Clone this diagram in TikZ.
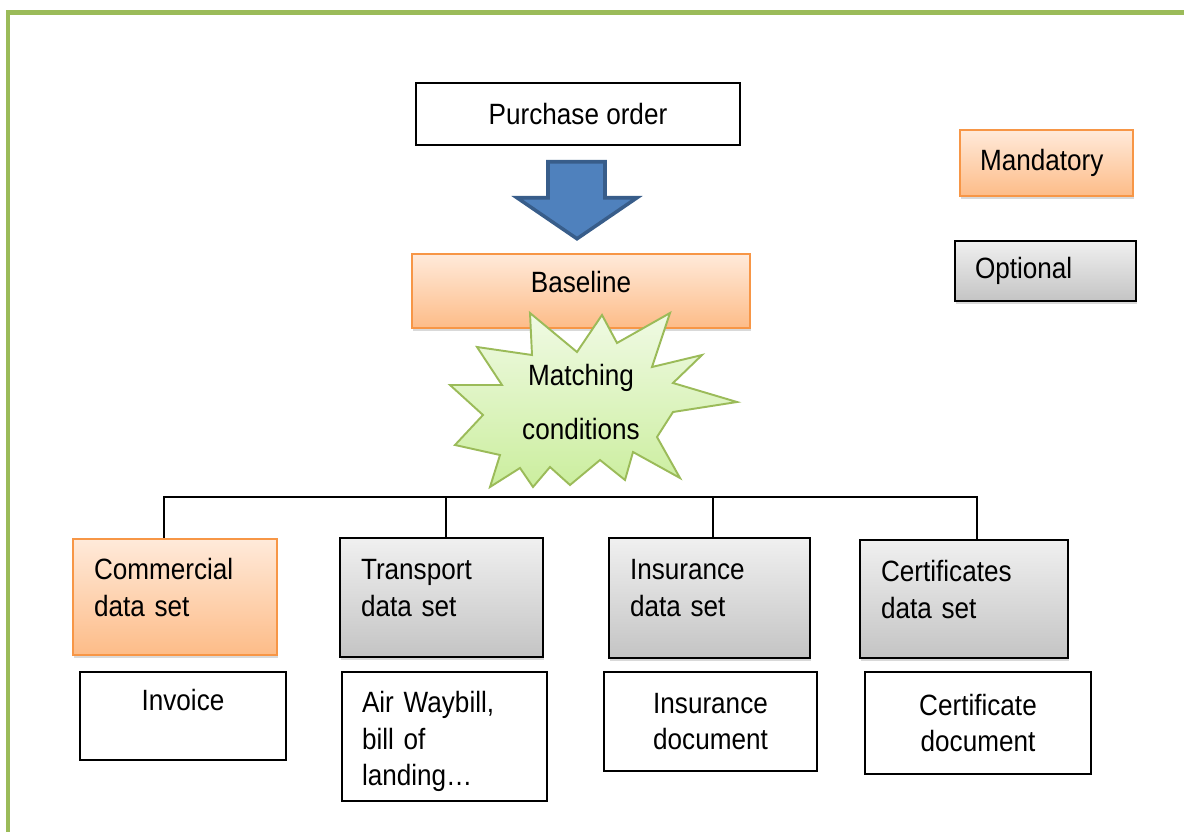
\documentclass[tikz,border=0pt]{standalone}
\usepackage{fontspec}
\setmainfont{Liberation Sans}[FakeStretch=0.89]
\usepackage{tikz}
\usetikzlibrary{shadows,calc}
\usepackage{xcolor}
\definecolor{framegreen}{RGB}{155,187,89}
\definecolor{mandline}{RGB}{247,150,70}
\definecolor{mandtop}{RGB}{255,234,218}
\definecolor{mandbot}{RGB}{253,188,136}
\definecolor{opttop}{RGB}{240,240,240}
\definecolor{optbot}{RGB}{196,196,196}
\definecolor{arrowfill}{RGB}{79,129,189}
\definecolor{arrowline}{RGB}{56,93,138}
\definecolor{bursttop}{RGB}{240,250,228}
\definecolor{burstbot}{RGB}{203,238,158}
\newcommand{\bigfont}{\fontsize{16.7}{21}\selectfont}

\begin{document}
\begin{tikzpicture}[x=0.02cm, y=-0.02cm, font=\bigfont,
    docbox/.style={draw=black, line width=0.85pt, inner sep=0pt, align=center},
    mandbox/.style={draw=mandline, line width=1.2pt, top color=mandtop, bottom color=mandbot,
        drop shadow={opacity=0.3, shadow xshift=0.6pt, shadow yshift=-1.8pt}, inner sep=0pt},
    optbox/.style={draw=black, line width=1.4pt, top color=opttop, bottom color=optbot,
        drop shadow={opacity=0.3, shadow xshift=0.6pt, shadow yshift=-1.8pt}, inner sep=0pt},
    setbox/.style={inner xsep=0.42cm, align=left, text depth=1.14cm},
    keybox/.style={inner xsep=0.4cm, align=left},
    bigarrow/.style={fill=arrowfill, draw=arrowline, line width=2pt, line join=miter},
    burst/.style={top color=bursttop, bottom color=burstbot, draw=framegreen, line width=1.1pt, line join=miter},
    tree/.style={draw=black, line width=0.85pt}]

    \useasboundingbox (0,0) rectangle (1184,832);

    % green frame
    \begin{scope}
        \clip (0,0) rectangle (1184,832);
        \draw[framegreen, line width=0.1cm] (8,12) rectangle (1186,860);
    \end{scope}

    % purchase order and baseline
    \node[docbox, minimum width=6.48cm, minimum height=1.24cm] (po) at (578,114) {Purchase order};
    \node[mandbox, minimum width=6.76cm, minimum height=1.48cm, text depth=0.36cm] (base) at (581,291) {Baseline};

    \draw[bigarrow] ($(po.south)+(-30,16)$) -- ++(57,0) -- ++(0,36) -- ++(32,0)
        -- ++(-60,41) -- ++(-60,-41) -- ++(31,0) -- cycle;

    % matching conditions
    \draw[burst] (530,313) -- (577,352) -- (602,315) -- (617,343) -- (670,313) -- (652,367)
        -- (702,355) -- (673,383) -- (737,402) -- (673,412) -- (657,437) -- (680,478)
        -- (633,452) -- (625,480) -- (600,460) -- (570,485) -- (550,467) -- (533,487)
        -- (520,468) -- (490,487) -- (500,455) -- (455,445) -- (483,415) -- (450,385)
        -- (502,385) -- (477,347) -- (532,355) -- cycle;
    \node[align=center] (match) at (581,402) {Matching\\[0.36cm]conditions};

    % legend
    \node[mandbox, keybox, minimum width=3.46cm, minimum height=1.32cm, text width=2.66cm] (mand) at (1046.5,163) {Mandatory};
    \node[optbox, keybox, minimum width=3.62cm, minimum height=1.2cm, text width=2.82cm] (opt) at (1045.5,271) {Optional};

    % data sets
    \node[mandbox, setbox, minimum width=4.08cm, minimum height=2.32cm, text width=3.24cm] (com) at (175,597) {Commercial\\data set};
    \node[optbox, setbox, minimum width=4.06cm, minimum height=2.38cm, text width=3.22cm] (tra) at (441.5,597.5) {Transport\\data set};
    \node[optbox, setbox, minimum width=4.02cm, minimum height=2.4cm, text width=3.18cm] (ins) at (709.5,598) {Insurance\\data set};
    \node[optbox, setbox, minimum width=4.16cm, minimum height=2.36cm, text width=3.32cm] (cer) at (964,599) {Certificates\\data set};

    % documents
    \node[docbox, minimum width=4.12cm, minimum height=1.76cm, text depth=0.65cm] (inv) at (183,716) {Invoice};
    \node[docbox, keybox, minimum width=4.1cm, minimum height=2.58cm, text width=3.3cm, text depth=1.4cm] (awb) at (444.5,736.5) {Air Waybill,\\bill of\\landing…};
    \node[docbox, minimum width=4.26cm, minimum height=1.98cm] (idoc) at (710.5,721.5) {Insurance\\document};
    \node[docbox, minimum width=4.52cm, minimum height=2.04cm] (cdoc) at (978,723) {Certificate\\document};

    % tree
    \coordinate (bus) at (570,497);
    \coordinate (dcom) at ([xshift=-0.22cm]com.north);
    \coordinate (dtra) at ([xshift=0.09cm]tra.north);
    \coordinate (dins) at ([xshift=0.07cm]ins.north);
    \coordinate (dcer) at ([xshift=0.26cm]cer.north);
    \draw[tree] (dcom) -- (dcom |- bus) -- (dcer |- bus) -- (dcer);
    \draw[tree] (dtra |- bus) -- (dtra);
    \draw[tree] (dins |- bus) -- (dins);
\end{tikzpicture}
\end{document}
